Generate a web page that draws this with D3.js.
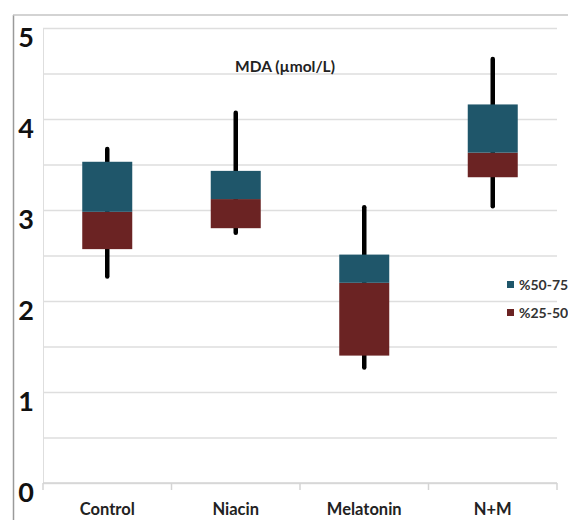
<!DOCTYPE html>
<html>
<head>
<meta charset="utf-8">
<script src="https://cdn.jsdelivr.net/npm/d3@7"></script>
<style>
  body { margin: 0; background: #fff; }
  svg { display: block; font-family: Lato, "Open Sans", sans-serif; }
</style>
</head>
<body>
<svg id="chart" width="568" height="520"></svg>
<script>
/************
** data
*************/
var categories = ["Control", "Niacin", "Melatonin", "N+M"];
var minValues = [2.27, 2.75, 1.27, 3.04];
var q1Values = [2.57, 2.80, 1.40, 3.36];
var medianValues = [2.98, 3.12, 2.20, 3.63];
var q3Values = [3.53, 3.43, 2.51, 4.16];
var maxValues = [3.67, 4.07, 3.03, 4.66];
var yTickLabels = [0, 1, 2, 3, 4, 5];
var seriesNames = ["%50-75", "%25-50"];
var chartTitle = "MDA (\u00b5mol/L)";

/************
** colors
*************/
var upperColor = "#1f566a";
var lowerColor = "#6b2323";
var gridColor = "#dedede";

var svg = d3.select("#chart");
var plot = {left: 43, right: 557, top: 28, bottom: 483};

var x = d3.scaleBand().domain(categories).range([plot.left, plot.right]);
var y = d3.scaleLinear().domain([0, 5]).range([plot.bottom, plot.top]);
var boxWidth = 50;

// outer frame
svg.append("line").attr("x1", 13.5).attr("x2", 13.5).attr("y1", 15).attr("y2", 520)
    .attr("stroke", "#9a9a9a").attr("stroke-width", 1.5);
svg.append("line").attr("x1", 13).attr("x2", 568).attr("y1", 15).attr("y2", 15)
    .attr("stroke", "#c4c4c4").attr("stroke-width", 1.5);

// gridlines every 0.5
svg.append("g")
    .attr("transform", "translate(" + plot.left + ",0)")
    .call(d3.axisLeft(y).ticks(10).tickSize(-(plot.right - plot.left)).tickFormat(""))
    .call(function(g){
        g.select(".domain").attr("stroke", gridColor);
        g.selectAll(".tick line").attr("stroke", gridColor).attr("stroke-width", 1.5);
    });

// y labels (sit a little below their lines)
svg.append("g")
    .attr("transform", "translate(" + plot.left + ",0)")
    .call(d3.axisLeft(y).tickValues(yTickLabels).tickSize(0).tickPadding(9).tickFormat(d3.format("d")))
    .call(function(g){
        g.select(".domain").remove();
        g.selectAll("text")
            .attr("dy", "0.32em")
            .attr("transform", "translate(0,10)")
            .attr("font-size", 27).attr("font-weight", "bold")
            .attr("font-family", "Lato, sans-serif").attr("fill", "#111");
    });

// x axis line and ticks at category boundaries
var bounds = categories.map(function(c){ return x(c); }).concat([plot.right]);
svg.append("line").attr("x1", plot.left).attr("x2", plot.right)
    .attr("y1", plot.bottom).attr("y2", plot.bottom)
    .attr("stroke", "#d4d4d4").attr("stroke-width", 1.5);
svg.selectAll(".xtick").data(bounds).enter().append("line")
    .attr("class", "xtick")
    .attr("x1", function(d){ return d; }).attr("x2", function(d){ return d; })
    .attr("y1", plot.bottom).attr("y2", plot.bottom + 7)
    .attr("stroke", "#d4d4d4").attr("stroke-width", 1.5);
svg.selectAll(".xlabel").data(categories).enter().append("text")
    .attr("class", "xlabel")
    .attr("x", function(d){ return x(d) + x.bandwidth() / 2; })
    .attr("y", 515)
    .attr("text-anchor", "middle")
    .attr("font-size", 16.5).attr("font-weight", "bold").attr("fill", "#222")
    .text(function(d){ return d; });

// whiskers
var rows = categories.map(function(c, i){
    return {cat: c, min: minValues[i], q1: q1Values[i], med: medianValues[i], q3: q3Values[i], max: maxValues[i]};
});
var cx = function(d){ return x(d.cat) + x.bandwidth() / 2; };

svg.selectAll(".whisker").data(rows).enter().append("line")
    .attr("class", "whisker")
    .attr("x1", cx).attr("x2", cx)
    .attr("y1", function(d){ return y(d.max); })
    .attr("y2", function(d){ return y(d.min); })
    .attr("stroke", "#000").attr("stroke-width", 4.5).attr("stroke-linecap", "round");

// lower box (q1 - median)
svg.selectAll(".lower").data(rows).enter().append("rect")
    .attr("class", "lower")
    .attr("x", function(d){ return cx(d) - boxWidth / 2; })
    .attr("width", boxWidth)
    .attr("y", function(d){ return y(d.med); })
    .attr("height", function(d){ return y(d.q1) - y(d.med); })
    .attr("fill", lowerColor);

// upper box (median - q3)
svg.selectAll(".upper").data(rows).enter().append("rect")
    .attr("class", "upper")
    .attr("x", function(d){ return cx(d) - boxWidth / 2; })
    .attr("width", boxWidth)
    .attr("y", function(d){ return y(d.q3); })
    .attr("height", function(d){ return y(d.med) - y(d.q3); })
    .attr("fill", upperColor);

// title
svg.append("text")
    .attr("x", 285).attr("y", 72)
    .attr("text-anchor", "middle")
    .attr("font-size", 15.5).attr("font-weight", "bold").attr("fill", "#222")
    .text(chartTitle);

// legend
var legendColors = [upperColor, lowerColor];
var legend = svg.selectAll(".legend").data(seriesNames).enter().append("g")
    .attr("class", "legend")
    .attr("transform", function(d, i){ return "translate(507," + (281 + i * 28) + ")"; });
legend.append("rect").attr("width", 7).attr("height", 7)
    .attr("fill", function(d, i){ return legendColors[i]; });
legend.append("text").attr("x", 12).attr("y", 8.5)
    .attr("font-size", 14).attr("font-weight", "bold").attr("fill", "#333")
    .text(function(d){ return d; });
</script>
</body>
</html>
